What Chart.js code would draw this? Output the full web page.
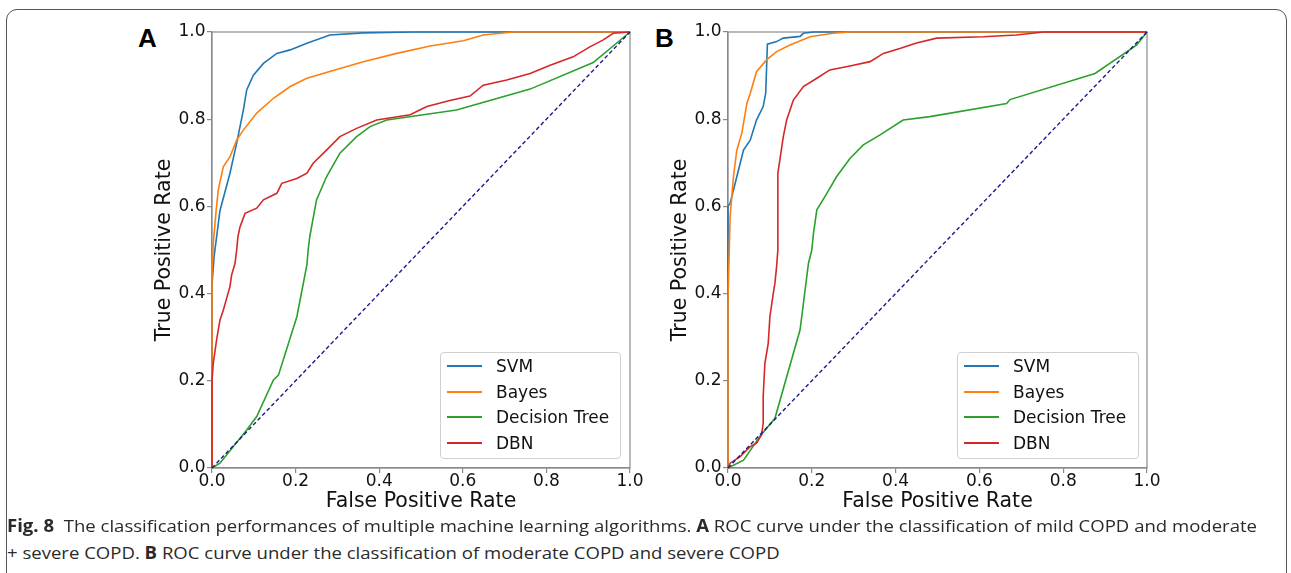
<!DOCTYPE html>
<html>
<head>
<meta charset="utf-8">
<script src="https://cdn.jsdelivr.net/npm/chart.js@4.4.1/dist/chart.umd.min.js"></script>
<style>
  html, body { margin: 0; padding: 0; background: #fff; }
  body { width: 1291px; height: 573px; position: relative; overflow: hidden; font-family: 'DejaVu Sans', sans-serif; }
  .frame { position: absolute; left: 6px; top: 9px; width: 1281px; height: 620px; border: 1.5px solid #555; border-radius: 11px; box-sizing: border-box; }
  .panel { position: absolute; top: 0; width: 520px; height: 520px; }
  .letter { position: absolute; font: bold 26px 'Liberation Sans', Arial, sans-serif; line-height: 26px; color: #000; }
  .legend { position: absolute; border: 1px solid #cfcfcf; border-radius: 4px; background: rgba(255,255,255,0.85); box-sizing: border-box; }
  .legend .row { position: absolute; left: 0; height: 20px; font: 17px 'DejaVu Sans', sans-serif; line-height: 20px; color: #111; white-space: nowrap; }
  .legend .sw { position: absolute; top: 9px; width: 35px; height: 2px; }
  .legend .tx { position: absolute; top: 0; }
  .cap { position: absolute; left: 7px; font: 17px 'Open Sans', sans-serif; line-height: 20px; color: #2a2a2a; white-space: nowrap; transform-origin: 0 50%; }
  .cap b { font-weight: 700; }
</style>
</head>
<body>
<div class="frame"></div>
<div class="letter" style="left:138px; top:25px;">A</div>
<div class="letter" style="left:655px; top:25px;">B</div>
<div class="panel" style="left:130px;"><canvas id="cA" width="520" height="520"></canvas></div>
<div class="panel" style="left:646px;"><canvas id="cB" width="520" height="520"></canvas></div>
<div class="legend" id="legA" style="left:440px; top:352px; width:181px; height:107px;"></div>
<div class="legend" id="legB" style="left:957px; top:352px; width:182px; height:107px;"></div>
<div class="cap" id="cap1" style="top:516px;"><b>Fig. 8</b>&nbsp; The classification performances of multiple machine learning algorithms. <b>A</b> ROC curve under the classification of mild COPD and moderate</div>
<div class="cap" id="cap2" style="top:543px;">+ severe COPD. <b>B</b> ROC curve under the classification of moderate COPD and severe COPD</div>
<script>
// ---------- Data ----------
const seriesNames = ['SVM', 'Bayes', 'Decision Tree', 'DBN'];
const tickValues = [0, 0.2, 0.4, 0.6, 0.8, 1.0];
const xTitle = 'False Positive Rate';
const yTitle = 'True Positive Rate';

// Panel A
const fprSvmA   = [0, 0, 0.005, 0.019, 0.043, 0.059, 0.075, 0.083, 0.099, 0.123, 0.155, 0.187, 0.227, 0.282, 0.362, 0.48, 1];
const tprSvmA   = [0, 0.42, 0.485, 0.59, 0.676, 0.745, 0.821, 0.867, 0.901, 0.928, 0.951, 0.959, 0.974, 0.993, 0.998, 1, 1];
const fprBayesA = [0, 0, 0.003, 0.01, 0.015, 0.027, 0.043, 0.059, 0.075, 0.107, 0.147, 0.187, 0.227, 0.298, 0.362, 0.442, 0.522, 0.601, 0.649, 0.721, 1];
const tprBayesA = [0, 0.45, 0.515, 0.592, 0.638, 0.691, 0.714, 0.752, 0.775, 0.814, 0.848, 0.875, 0.894, 0.914, 0.932, 0.951, 0.968, 0.98, 0.993, 1, 1];
const fprTreeA  = [0, 0.019, 0.083, 0.107, 0.147, 0.159, 0.203, 0.227, 0.23, 0.234, 0.25, 0.274, 0.306, 0.346, 0.378, 0.418, 0.585, 0.761, 0.912, 1];
const tprTreeA  = [0, 0.011, 0.087, 0.118, 0.202, 0.213, 0.347, 0.466, 0.5, 0.531, 0.615, 0.668, 0.722, 0.76, 0.783, 0.798, 0.821, 0.869, 0.93, 1];
const fprDbnA   = [0, 0, 0.003, 0.011, 0.019, 0.027, 0.035, 0.043, 0.047, 0.055, 0.059, 0.062, 0.067, 0.079, 0.107, 0.123, 0.155, 0.167, 0.203, 0.227, 0.242, 0.274, 0.306, 0.346, 0.394, 0.474, 0.514, 0.569, 0.617, 0.649, 0.705, 0.761, 0.809, 0.864, 0.904, 0.936, 0.96, 1];
const tprDbnA   = [0, 0.2, 0.24, 0.294, 0.339, 0.362, 0.389, 0.416, 0.443, 0.469, 0.5, 0.53, 0.553, 0.584, 0.596, 0.615, 0.63, 0.653, 0.664, 0.676, 0.699, 0.729, 0.76, 0.779, 0.798, 0.81, 0.829, 0.843, 0.853, 0.878, 0.89, 0.905, 0.924, 0.943, 0.966, 0.982, 0.997, 1];

// Panel B
const fprSvmB   = [0, 0, 0.005, 0.021, 0.037, 0.053, 0.068, 0.084, 0.09, 0.094, 0.116, 0.132, 0.172, 0.18, 0.204, 1];
const tprSvmB   = [0, 0.6, 0.607, 0.668, 0.729, 0.752, 0.798, 0.829, 0.86, 0.972, 0.978, 0.986, 0.99, 0.997, 1, 1];
const fprBayesB = [0, 0, 0.005, 0.013, 0.021, 0.033, 0.045, 0.053, 0.068, 0.092, 0.116, 0.148, 0.196, 0.251, 0.29, 1];
const tprBayesB = [0, 0.385, 0.576, 0.668, 0.729, 0.768, 0.836, 0.859, 0.909, 0.936, 0.955, 0.97, 0.989, 0.997, 1, 1];
const fprTreeB  = [0, 0.037, 0.076, 0.112, 0.172, 0.192, 0.2, 0.204, 0.212, 0.236, 0.259, 0.291, 0.323, 0.363, 0.418, 0.482, 0.665, 0.673, 0.876, 0.975, 1];
const tprTreeB  = [0, 0.018, 0.072, 0.114, 0.317, 0.469, 0.5, 0.538, 0.592, 0.63, 0.668, 0.71, 0.741, 0.764, 0.798, 0.806, 0.836, 0.845, 0.905, 0.97, 1];
const fprDbnB   = [0, 0.005, 0.029, 0.053, 0.068, 0.08, 0.084, 0.084, 0.088, 0.096, 0.1, 0.108, 0.112, 0.116, 0.119, 0.119, 0.132, 0.14, 0.148, 0.156, 0.18, 0.212, 0.243, 0.291, 0.339, 0.371, 0.41, 0.45, 0.498, 0.609, 0.688, 0.753, 1];
const tprDbnB   = [0, 0.011, 0.026, 0.049, 0.057, 0.076, 0.102, 0.164, 0.24, 0.286, 0.347, 0.4, 0.424, 0.462, 0.5, 0.676, 0.76, 0.798, 0.821, 0.844, 0.875, 0.894, 0.913, 0.922, 0.932, 0.951, 0.962, 0.975, 0.986, 0.989, 0.993, 1, 1];

// Chance diagonal
const fprChance = [0, 1];
const tprChance = [0, 1];

// ---------- Styling ----------
const colors = ['#1f77b4', '#ff7f0e', '#2ca02c', '#d62728'];
const FONT = "'DejaVu Sans', sans-serif";
const AXIS_GRAY = '#8a8a8a';

function zip(xs, ys) { return xs.map((x, i) => ({ x: x, y: ys[i] })); }

const framePlugin = {
  id: 'frame',
  beforeDatasetsDraw(chart) {
    const a = chart.chartArea, ctx = chart.ctx;
    ctx.save();
    ctx.strokeStyle = AXIS_GRAY;
    ctx.lineWidth = 1.2;
    ctx.strokeRect(a.left, a.top, a.right - a.left, a.bottom - a.top);
    ctx.restore();
  }
};

function makeChart(id, curves, padRight) {
  const datasets = curves.map((c, i) => ({
    label: seriesNames[i],
    data: zip(c[0], c[1]),
    borderColor: colors[i],
    borderWidth: 1.6,
    showLine: true,
    pointRadius: 0,
    fill: false,
    clip: false,
    order: 10 - i
  }));
  datasets.push({
    label: 'chance',
    data: zip(fprChance, tprChance),
    borderColor: '#1a1a8c',
    borderWidth: 1.4,
    borderDash: [4, 2.6],
    showLine: true,
    pointRadius: 0,
    fill: false,
    clip: false,
    order: 1
  });
  const axisCommon = (title) => ({
    type: 'linear',
    min: 0,
    max: 1,
    afterBuildTicks(scale) { scale.ticks = tickValues.map(v => ({ value: v })); },
    grid: { display: true, drawOnChartArea: false, drawTicks: true, tickLength: 5, color: AXIS_GRAY, lineWidth: 1.2 },
    border: { display: true, color: AXIS_GRAY, width: 1.2 },
    ticks: { color: '#111', font: { family: FONT, size: 17, lineHeight: 1 }, callback: (v) => Number(v).toFixed(1), maxRotation: 0, autoSkip: false },
    title: { display: true, text: title, color: '#111', font: { family: FONT, size: 20.5, lineHeight: 1 } }
  });
  const xAxis = axisCommon(xTitle);
  xAxis.ticks.padding = 0;
  xAxis.title.padding = { top: 0, bottom: 8.5 };
  xAxis.afterFit = (scale) => { scale.height = 52; };
  const yAxis = axisCommon(yTitle);
  yAxis.ticks.padding = 1.5;
  yAxis.title.padding = { top: 24.75, bottom: 0 };
  yAxis.afterFit = (scale) => { scale.width = 82; };

  return new Chart(document.getElementById(id), {
    type: 'scatter',
    data: { datasets: datasets },
    options: {
      responsive: false,
      animation: false,
      devicePixelRatio: 1,
      layout: { padding: { left: 0, top: 32, right: padRight, bottom: 0 } },
      plugins: { legend: { display: false }, tooltip: { enabled: false } },
      scales: { x: xAxis, y: yAxis }
    },
    plugins: [framePlugin]
  });
}

const chartA = makeChart('cA', [[fprSvmA, tprSvmA], [fprBayesA, tprBayesA], [fprTreeA, tprTreeA], [fprDbnA, tprDbnA]], 20);
const chartB = makeChart('cB', [[fprSvmB, tprSvmB], [fprBayesB, tprBayesB], [fprTreeB, tprTreeB], [fprDbnB, tprDbnB]], 19);

function buildLegend(chart, elId, swLeft, txLeft) {
  const el = document.getElementById(elId);
  const rowTops = [13, 38.5, 64, 89.5];
  chart.data.datasets.slice(0, 4).forEach((ds, i) => {
    const row = document.createElement('div');
    row.className = 'row';
    row.style.top = (rowTops[i] - 10) + 'px';
    const sw = document.createElement('div');
    sw.className = 'sw';
    sw.style.left = swLeft + 'px';
    sw.style.backgroundColor = colors[i];
    const tx = document.createElement('div');
    tx.className = 'tx';
    tx.style.left = txLeft + 'px';
    tx.textContent = ds.label;
    row.appendChild(sw); row.appendChild(tx);
    el.appendChild(row);
  });
}
buildLegend(chartA, 'legA', 6, 55);
buildLegend(chartB, 'legB', 6, 55);

// Fit caption width to the reference line length
const c1 = document.getElementById('cap1'), c2 = document.getElementById('cap2');
const target = 1250;
const s = target / c1.getBoundingClientRect().width;
c1.style.transform = 'scaleX(' + s + ')';
c2.style.transform = 'scaleX(' + s + ')';
</script>
</body>
</html>
